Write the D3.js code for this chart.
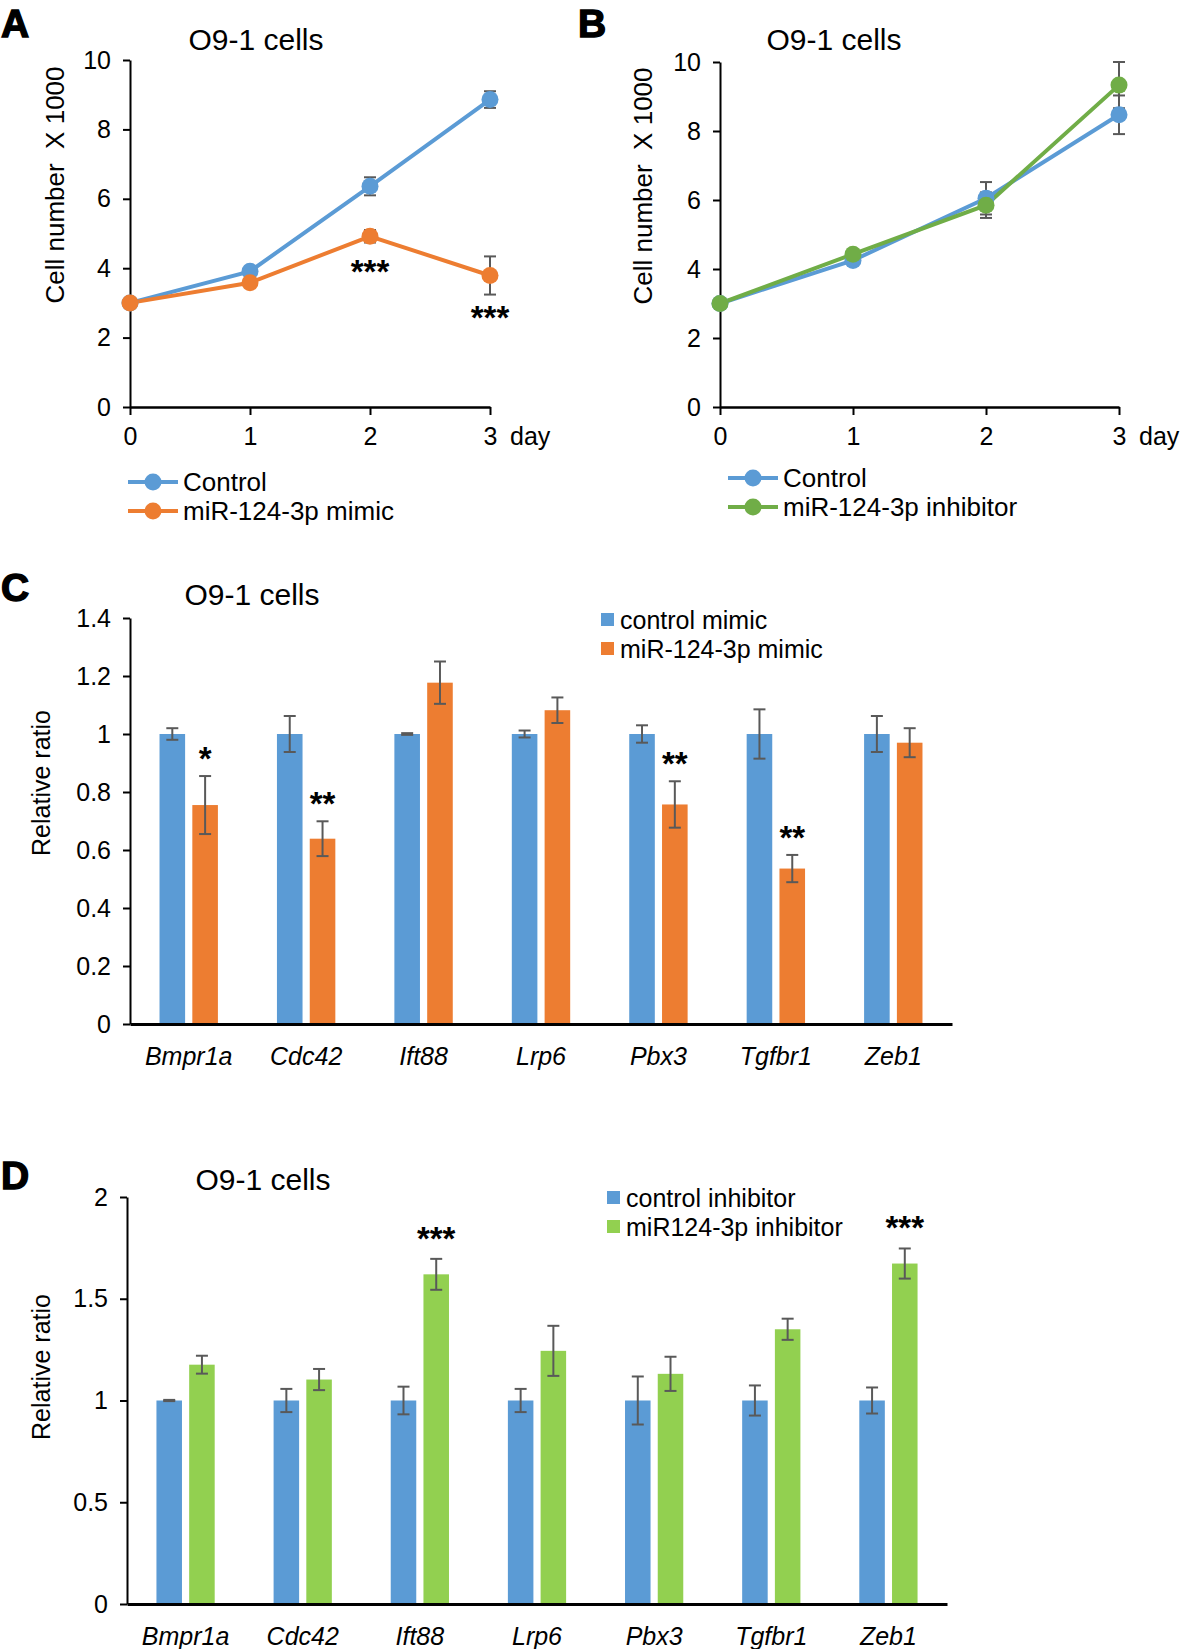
<!DOCTYPE html>
<html>
<head>
<meta charset="utf-8">
<script src="https://cdn.jsdelivr.net/npm/d3@7/dist/d3.min.js"></script>
<style>
  html, body { margin: 0; padding: 0; background: #fff; }
  svg { display: block; }
  text { font-family: "Liberation Sans", Arial, Helvetica, sans-serif; fill: #000; white-space: pre; }
</style>
</head>
<body>
<div id="chart"></div>
<script>
// ---------- DATA ----------
// Panel A & B: growth curves
const days = [0, 1, 2, 3];
const aControl = [3.0, 3.91, 6.36, 8.86];
const aControlErr = [0.03, 0.08, 0.26, 0.24];
const aMimic = [3.0, 3.58, 4.92, 3.79];
const aMimicErr = [0.03, 0.06, 0.18, 0.55];
const aStars = ["", "", "***", "***"];

const bControl = [3.0, 4.25, 6.05, 8.47];
const bControlErr = [0.03, 0.06, 0.47, 0.56];
const bInhib = [3.0, 4.43, 5.85, 9.33];
const bInhibErr = [0.03, 0.06, 0.37, 0.67];

const yTicksAB = [0, 2, 4, 6, 8, 10];

// Panel C & D: qPCR bars
const genes = ["Bmpr1a", "Cdc42", "Ift88", "Lrp6", "Pbx3", "Tgfbr1", "Zeb1"];

const cControl = [1, 1, 1, 1, 1, 1, 1];
const cControlErr = [0.02, 0.062, 0.003, 0.012, 0.03, 0.085, 0.062];
const cMimic = [0.755, 0.639, 1.177, 1.082, 0.757, 0.536, 0.970];
const cMimicErr = [0.10, 0.06, 0.073, 0.044, 0.08, 0.047, 0.05];
const cStars = ["*", "**", "", "", "**", "**", ""];
const yTicksC = [0, 0.2, 0.4, 0.6, 0.8, 1, 1.2, 1.4];

const dControl = [1, 1, 1, 1, 1, 1, 1];
const dControlErr = [0.003, 0.057, 0.068, 0.057, 0.118, 0.074, 0.064];
const dInhib = [1.176, 1.103, 1.62, 1.244, 1.131, 1.350, 1.673];
const dInhibErr = [0.044, 0.052, 0.076, 0.123, 0.084, 0.052, 0.074];
const dStars = ["", "", "***", "", "", "", "***"];
const yTicksD = [0, 0.5, 1, 1.5, 2];

// ---------- STYLE ----------
const BLUE = "#5B9BD5", ORANGE = "#ED7D31", GREEN_LINE = "#70AD47", GREEN_BAR = "#92D050";
const ERR = "#595959";
const W = 1181, H = 1649;

const svg = d3.select("#chart").append("svg").attr("width", W).attr("height", H);

function panelLetter(x, y, t) {
  svg.append("text").attr("x", x).attr("y", y).attr("font-size", 39).attr("font-weight", "bold")
    .attr("stroke", "#000").attr("stroke-width", 1.4).text(t);
}

function styleAxis(g, width) {
  g.select(".domain").attr("stroke", "#000").attr("stroke-width", width);
  g.selectAll(".tick line").attr("stroke", "#000").attr("stroke-width", 2);
  g.selectAll(".tick text").attr("font-family", '"Liberation Sans", Arial, sans-serif').attr("fill", "#000");
}

// ---------- LINE PANELS ----------
function linePanel(cfg) {
  const x = d3.scaleLinear().domain([0, 3]).range(cfg.xr);
  const y = d3.scaleLinear().domain([0, 10]).range(cfg.yr);
  const g = svg.append("g");

  const ya = g.append("g").attr("transform", `translate(${cfg.xr[0]},0)`)
    .call(d3.axisLeft(y).tickValues(yTicksAB).tickSize(7).tickSizeOuter(0).tickPadding(12));
  styleAxis(ya, 2);
  ya.selectAll(".tick text").attr("font-size", 25);

  const xa = g.append("g").attr("transform", `translate(0,${cfg.yr[0]})`)
    .call(d3.axisBottom(x).tickValues(days).tickFormat(d3.format("d")).tickSize(8).tickSizeOuter(0).tickPadding(12));
  styleAxis(xa, 2.5);
  xa.selectAll(".tick text").attr("font-size", 25);

  g.append("text").attr("x", x(3) + 20).attr("y", cfg.yr[0] + 38).attr("font-size", 25).text("day");

  g.append("text").attr("x", cfg.titleX).attr("y", cfg.titleY).attr("text-anchor", "middle")
    .attr("font-size", 30).text("O9-1 cells");

  g.append("text").attr("transform", `translate(${cfg.ylabX},${cfg.ylabY}) rotate(-90)`)
    .attr("text-anchor", "middle").attr("font-size", 26).text("Cell number  X 1000");

  const line = d3.line().x((d, i) => x(days[i])).y(d => y(d));
  cfg.series.forEach(s => {
    g.append("path").datum(s.vals).attr("d", line).attr("fill", "none")
      .attr("stroke", s.color).attr("stroke-width", 4);
  });
  cfg.series.forEach(s => {
    s.vals.forEach((v, i) => {
      const e = s.err[i];
      if (e > 0.05) {
        const eg = g.append("g").attr("stroke", ERR).attr("stroke-width", 2);
        eg.append("line").attr("x1", x(days[i])).attr("x2", x(days[i])).attr("y1", y(v - e)).attr("y2", y(v + e));
        eg.append("line").attr("x1", x(days[i]) - 6).attr("x2", x(days[i]) + 6).attr("y1", y(v - e)).attr("y2", y(v - e));
        eg.append("line").attr("x1", x(days[i]) - 6).attr("x2", x(days[i]) + 6).attr("y1", y(v + e)).attr("y2", y(v + e));
      }
    });
  });
  cfg.series.forEach(s => {
    g.selectAll(null).data(s.vals).enter().append("circle")
      .attr("cx", (d, i) => x(days[i])).attr("cy", d => y(d)).attr("r", 8.5).attr("fill", s.color);
  });
  if (cfg.stars) {
    const s = cfg.series[1];
    cfg.stars.forEach((st, i) => {
      if (!st) return;
      g.append("text").attr("x", x(days[i])).attr("y", y(s.vals[i] - s.err[i]) * 0.5 + y(s.vals[i]) * 0.5 + 44)
        .attr("text-anchor", "middle").attr("font-size", 33).attr("font-weight", "bold").text(st);
    });
  }
  // legend
  cfg.series.forEach((s, k) => {
    const ly = cfg.legY + k * 29;
    g.append("line").attr("x1", cfg.legX).attr("x2", cfg.legX + 50).attr("y1", ly).attr("y2", ly)
      .attr("stroke", s.color).attr("stroke-width", 4);
    g.append("circle").attr("cx", cfg.legX + 25).attr("cy", ly).attr("r", 8.5).attr("fill", s.color);
    g.append("text").attr("x", cfg.legX + 55).attr("y", ly + 9).attr("font-size", 26).text(s.name);
  });
}

linePanel({
  xr: [130, 490], yr: [407, 60], titleX: 256, titleY: 50, ylabX: 64, ylabY: 185, legX: 128, legY: 482,
  series: [
    { name: "Control", vals: aControl, err: aControlErr, color: BLUE },
    { name: "miR-124-3p mimic", vals: aMimic, err: aMimicErr, color: ORANGE }
  ],
  stars: aStars
});
linePanel({
  xr: [720, 1119], yr: [407, 62], titleX: 834, titleY: 50, ylabX: 652, ylabY: 186, legX: 728, legY: 478,
  series: [
    { name: "Control", vals: bControl, err: bControlErr, color: BLUE },
    { name: "miR-124-3p inhibitor", vals: bInhib, err: bInhibErr, color: GREEN_LINE }
  ]
});
panelLetter(1, 37, "A");
panelLetter(578, 37, "B");

// ---------- BAR PANELS ----------
function barPanel(cfg) {
  const x = d3.scaleBand().domain(genes).range(cfg.xr).paddingInner(0).paddingOuter(0);
  const sub = d3.scaleBand().domain([0, 1]).range([0, x.bandwidth()]).paddingInner(0.22).paddingOuter(0.9);
  const y = d3.scaleLinear().domain(cfg.ydom).range(cfg.yr);
  const g = svg.append("g");

  g.append("text").attr("x", cfg.titleX).attr("y", cfg.titleY).attr("text-anchor", "middle")
    .attr("font-size", 30).text("O9-1 cells");

  g.append("text").attr("transform", `translate(${cfg.ylabX},${cfg.ylabY}) rotate(-90)`)
    .attr("text-anchor", "middle").attr("font-size", 25).text("Relative ratio");

  cfg.series.forEach((s, k) => {
    genes.forEach((gn, i) => {
      g.append("rect").attr("x", x(gn) + sub(k)).attr("width", sub.bandwidth())
        .attr("y", y(s.vals[i])).attr("height", y(0) - y(s.vals[i])).attr("fill", s.color);
    });
  });
  cfg.series.forEach((s, k) => {
    genes.forEach((gn, i) => {
      const cx = x(gn) + sub(k) + sub.bandwidth() / 2;
      const v = s.vals[i], e = s.err[i];
      const eg = g.append("g").attr("stroke", ERR).attr("stroke-width", 2);
      eg.append("line").attr("x1", cx).attr("x2", cx).attr("y1", y(v - e)).attr("y2", y(v + e));
      eg.append("line").attr("x1", cx - 6).attr("x2", cx + 6).attr("y1", y(v - e)).attr("y2", y(v - e));
      eg.append("line").attr("x1", cx - 6).attr("x2", cx + 6).attr("y1", y(v + e)).attr("y2", y(v + e));
    });
  });
  const s2 = cfg.series[1];
  cfg.stars.forEach((st, i) => {
    if (!st) return;
    const cx = x(genes[i]) + sub(1) + sub.bandwidth() / 2;
    g.append("text").attr("x", cx).attr("y", y(s2.vals[i] + s2.err[i]) - cfg.starGap)
      .attr("text-anchor", "middle").attr("font-size", 33).attr("font-weight", "bold").text(st);
  });

  const ya = g.append("g").attr("transform", `translate(${cfg.xr[0]},0)`)
    .call(d3.axisLeft(y).tickValues(cfg.yticks).tickFormat(d3.format("~g")).tickSize(7).tickSizeOuter(0).tickPadding(12));
  styleAxis(ya, 2);
  ya.selectAll(".tick text").attr("font-size", 25);

  const xa = g.append("g").attr("transform", `translate(0,${cfg.yr[0]})`)
    .call(d3.axisBottom(x).tickSize(0).tickSizeOuter(0).tickPadding(23));
  styleAxis(xa, 3);
  xa.selectAll(".tick text").attr("font-size", 25).attr("font-style", "italic");

  cfg.series.forEach((s, k) => {
    const ly = cfg.legY + k * 29;
    g.append("rect").attr("x", cfg.legX).attr("y", ly - 7).attr("width", 13).attr("height", 13).attr("fill", s.color);
    g.append("text").attr("x", cfg.legX + 19).attr("y", ly + 9).attr("font-size", 25).text(s.name);
  });
}

barPanel({
  xr: [130, 952], yr: [1024, 618], ydom: [0, 1.4], yticks: yTicksC,
  titleX: 252, titleY: 605, ylabX: 50, ylabY: 783, legX: 601, legY: 620, starGap: 6,
  series: [
    { name: "control mimic", vals: cControl, err: cControlErr, color: BLUE },
    { name: "miR-124-3p mimic", vals: cMimic, err: cMimicErr, color: ORANGE }
  ],
  stars: cStars
});
barPanel({
  xr: [127, 947], yr: [1604, 1197], ydom: [0, 2], yticks: yTicksD,
  titleX: 263, titleY: 1190, ylabX: 50, ylabY: 1367, legX: 607, legY: 1198, starGap: 9,
  series: [
    { name: "control inhibitor", vals: dControl, err: dControlErr, color: BLUE },
    { name: "miR124-3p inhibitor", vals: dInhib, err: dInhibErr, color: GREEN_BAR }
  ],
  stars: dStars
});
panelLetter(1, 601, "C");
panelLetter(1, 1189, "D");
</script>
</body>
</html>
